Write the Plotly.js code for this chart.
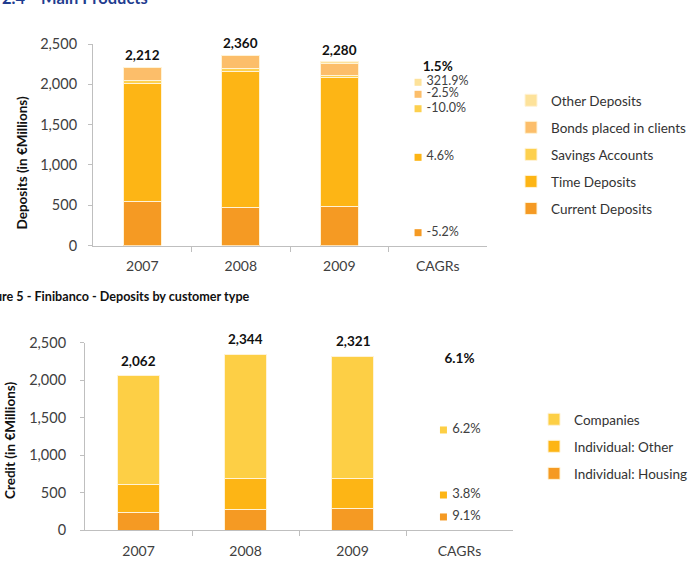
<!DOCTYPE html>
<html><head><meta charset="utf-8">
<script src="https://cdn.plot.ly/plotly-3.0.1.min.js"></script>
<style>html,body{margin:0;padding:0;background:#fff}</style>
</head><body><div id="chart" style="width:689px;height:570px"></div>
<script>
// ---- Deposits chart data ----
const depCategories = ['2007', '2008', '2009', 'CAGRs'];
const depCurrent = [540, 470, 487];
const depTime = [1470, 1695, 1595];
const depSavings = [32, 30, 26];
const depBonds = [168, 160, 150];
const depOther = [2, 5, 22];
const depTotals = [2212, 2360, 2280];
const depSeriesNames = ['Current Deposits', 'Time Deposits', 'Savings Accounts', 'Bonds placed in clients', 'Other Deposits'];
const depCagrLabels = ['-5.2%', '4.6%', '-10.0%', '-2.5%', '321.9%'];
const depCagrY = [159, 1094, 1697, 1876, 2025];
const depTotalCagr = ['1.5%'];
const depTotalCagrY = [2210];

// ---- Credit chart data ----
const crdCategories = ['2007', '2008', '2009', 'CAGRs'];
const crdHousing = [240, 276, 286];
const crdOther = [370, 405, 398];
const crdCompanies = [1452, 1663, 1637];
const crdTotals = [2062, 2344, 2321];
const crdSeriesNames = ['Individual: Housing', 'Individual: Other', 'Companies'];
const crdCagrLabels = ['9.1%', '3.8%', '6.2%'];
const crdCagrY = [174, 467, 1335];
const crdTotalCagr = ['6.1%'];
const crdTotalCagrY = [2270];

// ---- styles ----
const FONT = 'Lato, "Open Sans", sans-serif';
const depColors = ['#F59A23', '#FDB515', '#FDD04E', '#FCBE6A', '#FDE29A'];
const crdColors = ['#F59A23', '#FDB515', '#FDCF45'];
const AXIS_GRAY = '#BFBFBF';
const TEXT_GRAY = '#404040';
const BAR_W = 0.39;
const DEP_CAGR_OFFSET = -0.2;
const CRD_CAGR_OFFSET = -0.15;

const fmt = v => v.toLocaleString('en-US');
const idx = arr => arr.map((_, i) => i);

const traces = [];
const depSeries = [depCurrent, depTime, depSavings, depBonds, depOther];
depSeries.forEach((vals, i) => {
  traces.push({
    type: 'bar', x: idx(vals), y: vals, name: depSeriesNames[i],
    xaxis: 'x', yaxis: 'y', legend: 'legend', legendgroup: 'd' + i,
    legendrank: (depSeries.length - i) * 10,
    width: BAR_W, marker: {color: depColors[i], line: {color: '#FFF3D6', width: 1}},
    hoverinfo: 'name+y'
  });
});
const depCagrX = depCagrY.map(() => depCategories.length - 1 + DEP_CAGR_OFFSET);
traces.push({
  type: 'scatter', mode: 'markers+text', x: depCagrX, y: depCagrY,
  text: depCagrLabels.map(t => ' ' + t), textposition: 'middle right',
  marker: {symbol: 'square', size: 7, color: depColors},
  textfont: {family: FONT, size: 12.5, color: TEXT_GRAY},
  xaxis: 'x', yaxis: 'y', showlegend: false, cliponaxis: false, hoverinfo: 'skip'
});
traces.push({
  type: 'scatter', mode: 'text', x: depTotalCagr.map(() => depCategories.length - 1), y: depTotalCagrY,
  text: depTotalCagr, textposition: 'middle center',
  textfont: {family: FONT, size: 13.5, color: '#111', weight: 'bold'},
  xaxis: 'x', yaxis: 'y', showlegend: false, cliponaxis: false, hoverinfo: 'skip'
});

const crdSeries = [crdHousing, crdOther, crdCompanies];
crdSeries.forEach((vals, i) => {
  traces.push({
    type: 'bar', x: idx(vals), y: vals, name: crdSeriesNames[i],
    xaxis: 'x2', yaxis: 'y2', legend: 'legend2', legendgroup: 'c' + i,
    legendrank: (crdSeries.length - i) * 10,
    width: BAR_W, marker: {color: crdColors[i], line: {color: '#FFF3D6', width: 1}},
    hoverinfo: 'name+y'
  });
});
const crdCagrX = crdCagrY.map(() => crdCategories.length - 1 + CRD_CAGR_OFFSET);
traces.push({
  type: 'scatter', mode: 'markers+text', x: crdCagrX, y: crdCagrY,
  text: crdCagrLabels.map(t => ' ' + t), textposition: 'middle right',
  marker: {symbol: 'square', size: 7, color: crdColors},
  textfont: {family: FONT, size: 13, color: TEXT_GRAY},
  xaxis: 'x2', yaxis: 'y2', showlegend: false, cliponaxis: false, hoverinfo: 'skip'
});
traces.push({
  type: 'scatter', mode: 'text', x: crdTotalCagr.map(() => crdCategories.length - 1), y: crdTotalCagrY,
  text: crdTotalCagr, textposition: 'middle center',
  textfont: {family: FONT, size: 13.5, color: '#111', weight: 'bold'},
  xaxis: 'x2', yaxis: 'y2', showlegend: false, cliponaxis: false, hoverinfo: 'skip'
});

// total labels above bars (placed via the axes' data coordinates)
const totalAnn = (totals, xr, yr, shift) => totals.map((v, i) => ({
  text: fmt(v), xref: xr, yref: yr, x: i, y: v, xanchor: 'center', yanchor: 'bottom',
  yshift: shift, showarrow: false,
  font: {family: FONT, size: 13.5, color: '#111', weight: 'bold'}
}));

const W = 689, H = 570;
const px = v => v / W;
const py = v => (H - v) / H;

function xAxis(domain, anchor, cats) {
  return {
    domain: domain, anchor: anchor, range: [-0.5, cats.length - 0.5],
    tickmode: 'array', tickvals: idx(cats), ticktext: cats, ticks: '',
    showline: true, linecolor: AXIS_GRAY, linewidth: 1,
    showgrid: false, zeroline: false, fixedrange: true,
    tickfont: {family: FONT, size: 14, color: TEXT_GRAY},
    ticklabelstandoff: 8,
    minor: {tickmode: 'array', tickvals: idx(cats).slice(0, -1).map(i => i + 0.5), ticks: 'outside', ticklen: 5, tickcolor: AXIS_GRAY, showgrid: false}
  };
}
function yAxis(domain, anchor, standoff) {
  return {
    domain: domain, anchor: anchor, range: [0, 2500], dtick: 500, tickformat: ',',
    ticks: 'outside', ticklen: 4, tickcolor: AXIS_GRAY,
    showline: true, linecolor: AXIS_GRAY, linewidth: 1,
    showgrid: false, zeroline: false, fixedrange: true,
    tickfont: {family: FONT, size: 14.5, color: TEXT_GRAY},
    ticklabelstandoff: standoff
  };
}

const legendBase = {
  font: {family: FONT, size: 13.5, color: '#333'}, bgcolor: 'rgba(0,0,0,0)',
  traceorder: 'grouped', tracegroupgap: 6.5, xanchor: 'left', yanchor: 'top'
};

const layout = {
  width: W, height: H, paper_bgcolor: '#fff', plot_bgcolor: '#fff',
  margin: {l: 0, r: 0, t: 0, b: 0, autoexpand: false},
  barmode: 'stack', showlegend: true,
  font: {family: FONT, color: TEXT_GRAY},
  xaxis: xAxis([px(93), px(487)], 'y', depCategories),
  yaxis: yAxis([py(245.5), py(44)], 'x', 8),
  xaxis2: xAxis([px(85), px(513)], 'y2', crdCategories),
  yaxis2: yAxis([py(530), py(342.7)], 'x2', 11),
  legend: Object.assign({}, legendBase, {x: px(511), y: py(85)}),
  legend2: Object.assign({}, legendBase, {x: px(534), y: py(404)}),
  annotations: [
    {text: '2.4', xref: 'paper', yref: 'paper', x: px(0), y: 1.003, xanchor: 'left', yanchor: 'middle', showarrow: false,
     font: {family: FONT, size: 16.5, color: '#1F3D8F', weight: 'bold'}},
    {text: 'Main Products', xref: 'paper', yref: 'paper', x: px(39), y: 1.003, xanchor: 'left', yanchor: 'middle', showarrow: false,
     font: {family: FONT, size: 16.5, color: '#1F3D8F', weight: 'bold'}},
    {text: 'Figure 5 - Finibanco - Deposits by customer type', xref: 'paper', yref: 'paper', x: px(252), y: py(296), xanchor: 'right', yanchor: 'middle', showarrow: false,
     font: {family: FONT, size: 12.6, color: '#111', weight: 'bold'}},
    {text: 'Deposits (in €Millions)', xref: 'paper', yref: 'paper', x: px(21), y: py(162.5), xanchor: 'center', yanchor: 'middle', textangle: -90, showarrow: false,
     font: {family: FONT, size: 13.5, color: '#111', weight: 'bold'}},
    {text: 'Credit (in €Millions)', xref: 'paper', yref: 'paper', x: px(10), y: py(441), xanchor: 'center', yanchor: 'middle', textangle: -90, showarrow: false,
     font: {family: FONT, size: 13.5, color: '#111', weight: 'bold'}}
  ].concat(totalAnn(depTotals, 'x', 'y', 2), totalAnn(crdTotals, 'x2', 'y2', 5))
};

Plotly.newPlot('chart', traces, layout, {staticPlot: true, displayModeBar: false});
</script>
</body></html>
